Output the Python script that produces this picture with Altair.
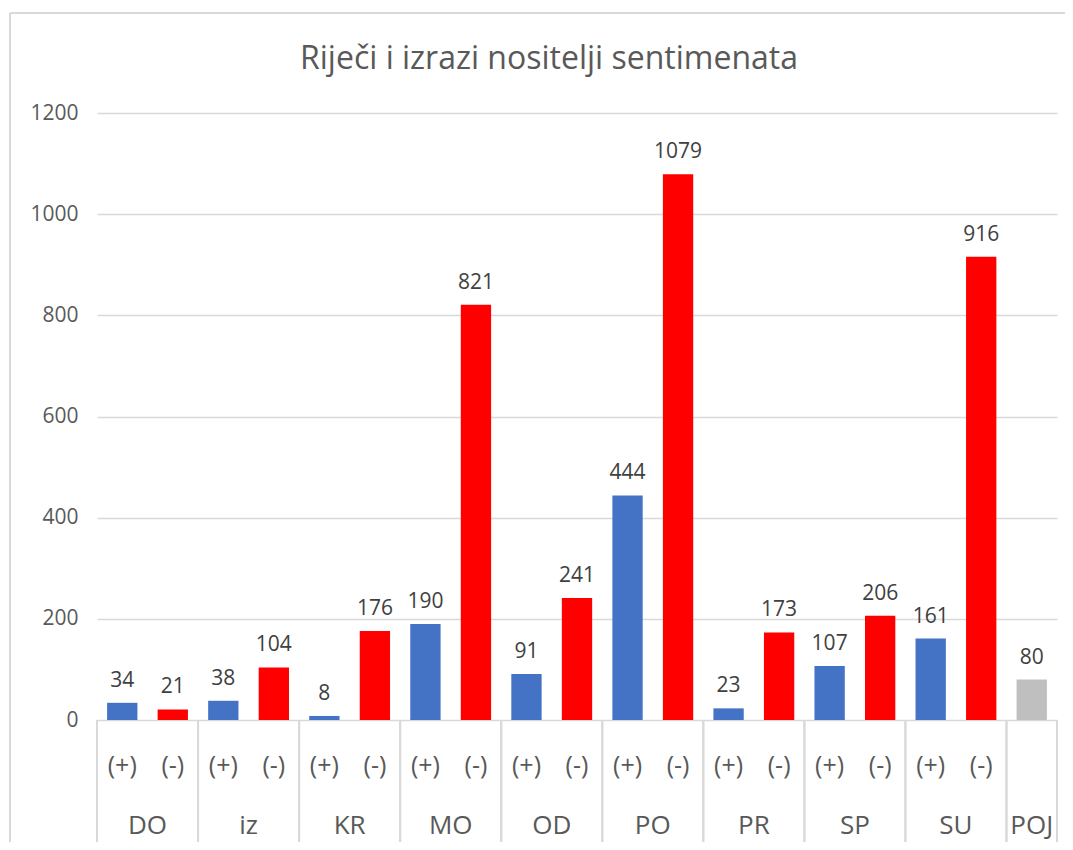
import altair as alt
import pandas as pd

groups = ["DO", "iz", "KR", "MO", "OD", "PO", "PR", "SP", "SU"]
positive = [34, 38, 8, 190, 91, 444, 23, 107, 161]
negative = [21, 104, 176, 821, 241, 1079, 173, 206, 916]
extra_group = "POJ"
extra_value = 80
sign_labels = ["(+)", "(-)"]
y_ticks = [0, 200, 400, 600, 800, 1000, 1200]
title_text = "Riječi i izrazi nositelji sentimenata"

rows = []
for g, p, n in zip(groups, positive, negative):
    rows.append({"group": g, "sign": sign_labels[0], "value": p, "kind": "pos"})
    rows.append({"group": g, "sign": sign_labels[1], "value": n, "kind": "neg"})
rows.append({"group": extra_group, "sign": "", "value": extra_value, "kind": "poj"})
df = pd.DataFrame(rows)
df["idx"] = [float(i) for i in range(len(df))]
df["x0"] = df["idx"] + 0.2
df["x1"] = df["idx"] + 0.8
df["xc"] = df["idx"] + 0.5
N = len(df)

gdf = df.groupby("group", sort=False).agg(c=("xc", "mean"), lo=("idx", "min"), hi=("idx", "max")).reset_index()
gdf["hi"] = gdf["hi"] + 1.0

FONT = "Open Sans"
GRID = "#D9D9D9"
TXT = "#595959"

xs = alt.Scale(domain=[0, N], nice=False, zero=False)
ys = alt.Scale(domain=[0, 1200], nice=False)


def yaxis():
    return alt.Axis(
        values=y_ticks, format="d", grid=True, gridColor=GRID, gridWidth=1.5, domain=False,
        ticks=False, labelFontSize=21, labelColor=TXT, labelFont=FONT,
        labelPadding=19, title=None,
    )


bars = alt.Chart(df).mark_bar().encode(
    x=alt.X("x0:Q", scale=xs, axis=None),
    x2=alt.X2("x1"),
    y=alt.Y("value:Q", scale=ys, axis=yaxis()),
    y2=alt.datum(0),
    color=alt.Color(
        "kind:N",
        scale=alt.Scale(domain=["pos", "neg", "poj"], range=["#4472C4", "#FF0000", "#BFBFBF"]),
        legend=None,
    ),
)

labels = alt.Chart(df).mark_text(
    font=FONT, fontSize=21, color="#404040", baseline="alphabetic", dy=-16
).encode(
    x=alt.X("xc:Q", scale=xs, axis=None),
    y=alt.Y("value:Q", scale=ys, axis=yaxis()),
    text=alt.Text("value:Q"),
)

sign_text = alt.Chart(df).mark_text(
    font=FONT, fontSize=25, color=TXT, baseline="middle"
).encode(x=alt.X("xc:Q", scale=xs, axis=None), y=alt.value(653), text=alt.Text("sign:N"))

group_text = alt.Chart(gdf).mark_text(
    font=FONT, fontSize=26, color=TXT, baseline="middle"
).encode(x=alt.X("c:Q", scale=xs, axis=None), y=alt.value(713), text=alt.Text("group:N"))

sep_lo = alt.Chart(gdf).mark_rule(color=GRID, strokeWidth=2).encode(
    x=alt.X("lo:Q", scale=xs, axis=None), y=alt.value(607), y2=alt.value(733)
)
sep_hi = alt.Chart(gdf).mark_rule(color=GRID, strokeWidth=2).encode(
    x=alt.X("hi:Q", scale=xs, axis=None), y=alt.value(607), y2=alt.value(733)
)

title = alt.Chart(pd.DataFrame({"t": [title_text]})).mark_text(
    font=FONT, fontSize=32, color=TXT, baseline="middle", align="center"
).encode(x=alt.value(452), y=alt.value(-54), text=alt.Text("t:N"))

border_left = alt.Chart(pd.DataFrame({"t": [title_text]})).mark_rule(color=GRID, strokeWidth=2).encode(
    x=alt.value(-87), y=alt.value(-100), y2=alt.value(740)
)
border_top = alt.Chart(pd.DataFrame({"t": [title_text]})).mark_rule(color=GRID, strokeWidth=2).encode(
    x=alt.value(-87), x2=alt.value(976), y=alt.value(-100)
)

chart = alt.layer(
    border_left, border_top, title, sep_lo, sep_hi, bars, labels, sign_text, group_text
).properties(
    width=960, height=607,
    autosize=alt.AutoSizeParams(type="none"),
    padding={"left": 89, "top": 105, "right": 8, "bottom": 122},
).configure_view(stroke=None)

chart.save("out.html", embed_options={"renderer": "svg", "actions": False})
